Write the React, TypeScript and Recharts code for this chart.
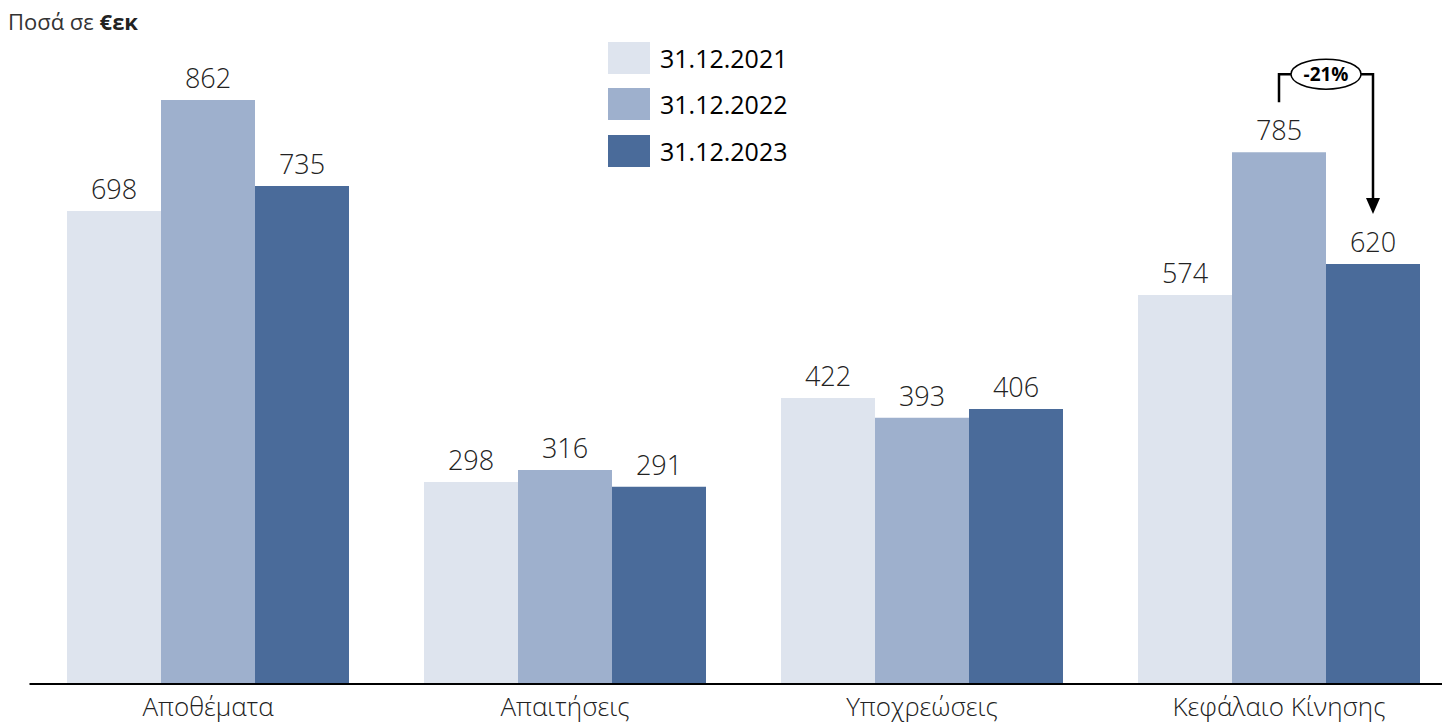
import { Bar, BarChart, LabelList, Legend, XAxis, YAxis } from "recharts"

const categories = ["Αποθέματα", "Απαιτήσεις", "Υποχρεώσεις", "Κεφάλαιο Κίνησης"]
const values2021 = [698, 298, 422, 574]
const values2022 = [862, 316, 393, 785]
const values2023 = [735, 291, 406, 620]
const seriesNames = ["31.12.2021", "31.12.2022", "31.12.2023"]
const changeLabel = "-21%"

const colors = ["#DEE4EE", "#9EB0CD", "#4A6B9A"]
const font = "'Open Sans', 'Noto Sans', sans-serif"

const data = categories.map((name, i) => ({
  name,
  y2021: values2021[i],
  y2022: values2022[i],
  y2023: values2023[i],
}))

// bracket + arrow over the last group, from the 2022 bar to the 2023 bar
function ChangeMarker(props: any) {
  const last = values2023.length - 1
  if (props.index !== last) return null
  const vb = props.viewBox ?? props
  const { x, y, width, height } = vb
  const ppu = height / Number(values2023[last])
  const base = y + height
  const prevTop = base - values2022[last] * ppu
  const leftX = x - width / 2
  const rightX = x + width / 2
  const bracketY = prevTop - 78
  const tipY = y - 50
  const rx = 35
  const ry = 15
  return (
    <g>
      <polyline
        points={`${leftX},${prevTop - 50} ${leftX},${bracketY} ${x - rx},${bracketY}`}
        fill="none"
        stroke="#000"
        strokeWidth={2.5}
      />
      <polyline
        points={`${x + rx},${bracketY} ${rightX},${bracketY} ${rightX},${tipY - 14}`}
        fill="none"
        stroke="#000"
        strokeWidth={2.5}
      />
      <polygon
        points={`${rightX - 7},${tipY - 16} ${rightX + 7},${tipY - 16} ${rightX},${tipY}`}
        fill="#000"
      />
      <ellipse cx={x} cy={bracketY} rx={rx} ry={ry} fill="#fff" stroke="#000" strokeWidth={1.5} />
      <text
        x={x}
        y={bracketY + 7}
        textAnchor="middle"
        fontFamily={font}
        fontWeight={700}
        fontSize={19}
        fill="#000"
      >
        {changeLabel}
      </text>
    </g>
  )
}

function LegendBox({ payload }: any) {
  return (
    <div style={{ fontFamily: font }}>
      {(payload ?? []).map((entry: any) => (
        <div key={entry.value} style={{ display: "flex", alignItems: "center", height: 46.5 }}>
          <span style={{ width: 42, height: 32, background: entry.color, marginRight: 10 }} />
          <span style={{ fontSize: 25, color: "#000" }}>{entry.value}</span>
        </div>
      ))}
    </div>
  )
}

export default function App() {
  const labelStyle = { fill: "#222", fontSize: 27, fontWeight: 300, fontFamily: font }
  return (
    <div
      style={{
        position: "absolute",
        left: 0,
        top: 0,
        width: 1442,
        height: 724,
        overflow: "hidden",
        background: "#fff",
        fontFamily: font,
      }}
    >
      <div style={{ position: "absolute", left: 8, top: 10, fontSize: 22, lineHeight: "22px", color: "#333", zIndex: 2 }}>
        Ποσά σε <b style={{ color: "#222" }}>€εκ</b>
      </div>
      <BarChart
        width={1460}
        height={724}
        data={data}
        margin={{ top: 6.5, right: 2.5, left: 29.5, bottom: 0 }}
        barCategoryGap={37.5}
        barGap={0}
      >
        <XAxis
          dataKey="name"
          height={40}
          tickLine={false}
          axisLine={{ stroke: "#000", strokeWidth: 2 }}
          tickMargin={8}
          interval={0}
          tick={{ fill: "#222", fontSize: 26, fontWeight: 300, fontFamily: font }}
        />
        <YAxis hide domain={[0, 1000]} />
        <Legend
          layout="vertical"
          align="center"
          verticalAlign="middle"
          wrapperStyle={{ left: 608, top: 34.5, width: 200 }}
          content={<LegendBox />}
        />
        <Bar dataKey="y2021" name={seriesNames[0]} fill={colors[0]} isAnimationActive={false}>
          <LabelList dataKey="y2021" position="top" offset={12} style={labelStyle} />
        </Bar>
        <Bar dataKey="y2022" name={seriesNames[1]} fill={colors[1]} isAnimationActive={false}>
          <LabelList dataKey="y2022" position="top" offset={12} style={labelStyle} />
        </Bar>
        <Bar dataKey="y2023" name={seriesNames[2]} fill={colors[2]} isAnimationActive={false}>
          <LabelList dataKey="y2023" position="top" offset={12} style={labelStyle} />
          <LabelList dataKey="y2023" content={<ChangeMarker />} />
        </Bar>
      </BarChart>
    </div>
  )
}
